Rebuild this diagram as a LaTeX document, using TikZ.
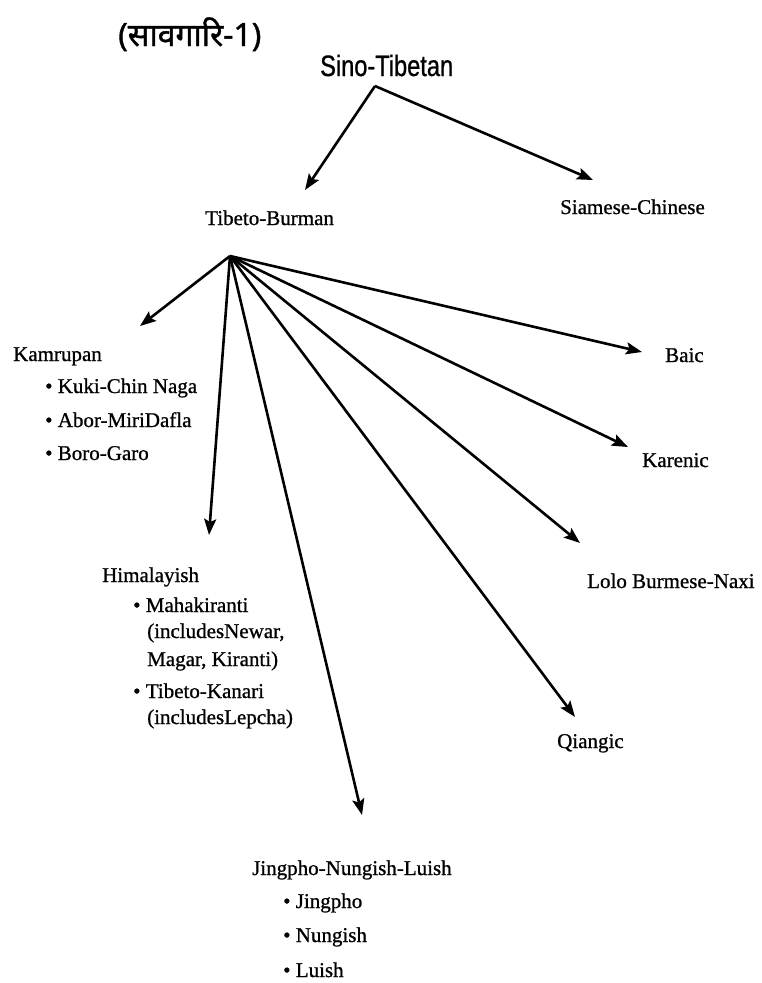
\documentclass[tikz,border=0pt]{standalone}
\usepackage{fontspec}
\setmainfont[FakeBold=0.9]{Liberation Serif}
\newfontfamily\devfont[Script=Devanagari,FakeBold=1.2]{Noto Sans}
\newfontfamily\narrowsans[FakeStretch=0.8,FakeBold=0.8]{Liberation Sans}
\usetikzlibrary{arrows.meta}
\begin{document}
\begin{tikzpicture}[x=1pt,y=-1pt,
  lbl/.style={font=\fontsize{21}{24}\selectfont, inner sep=0pt, anchor=base west},
  arr/.style={line width=2.6pt, -{Stealth[length=16pt,width=12pt,inset=3pt]}}]
\useasboundingbox (0,0) rectangle (762,983);
% titles
\node[font=\devfont\fontsize{32}{36}\selectfont, inner sep=0pt, anchor=base west] (title) at (118,46) {(सावगारि-1)};
\node[font=\narrowsans\fontsize{29.5}{32}\selectfont, inner sep=0pt, anchor=base west] (sino) at (320,76) {Sino-Tibetan};
% level 2
\node[lbl] (tb) at (205,225) {Tibeto-Burman};
\node[lbl] (sc) at (560,214) {Siamese-Chinese};
% right leaves
\node[lbl] (baic) at (665,362) {Baic};
\node[lbl] (karenic) at (642,467) {Karenic};
\node[lbl] (lolo) at (587,588) {Lolo Burmese-Naxi};
\node[lbl] (qiangic) at (557,748) {Qiangic};
% Kamrupan
\node[lbl] (kam) at (13,361) {Kamrupan};
\node[lbl] (kam1) at (45,393) {\textbullet\ Kuki-Chin Naga};
\node[lbl] (kam2) at (45,427) {\textbullet\ Abor-MiriDafla};
\node[lbl] (kam3) at (45,460) {\textbullet\ Boro-Garo};
% Himalayish
\node[lbl] (him) at (102,582) {Himalayish};
\node[lbl] (him1) at (133,612) {\textbullet\ Mahakiranti};
\node[lbl] (him1a) at (147,638) {(includesNewar,};
\node[lbl] (him1b) at (147,666) {Magar, Kiranti)};
\node[lbl] (him2) at (133,698) {\textbullet\ Tibeto-Kanari};
\node[lbl] (him2a) at (147,724) {(includesLepcha)};
% Jingpho
\node[lbl] (jnl) at (252,875) {Jingpho-Nungish-Luish};
\node[lbl] (jnl1) at (283,908) {\textbullet\ Jingpho};
\node[lbl] (jnl2) at (283,942) {\textbullet\ Nungish};
\node[lbl] (jnl3) at (283,977) {\textbullet\ Luish};
% junctions and arrow ends
\coordinate (sinoapex) at (375,86);
\coordinate (tbapex) at (230,256);
\coordinate (tSinoL) at (305,190);
\coordinate (tSinoR) at (593,180);
\coordinate (tKam) at (140,326);
\coordinate (tHim) at (209,535);
\coordinate (tJnl) at (362,815);
\coordinate (tQia) at (575,717);
\coordinate (tLolo) at (580,543);
\coordinate (tKar) at (628,447);
\coordinate (tBaic) at (642,352);
% arrows
\draw[arr] (sinoapex) -- (tSinoL);
\draw[arr] (sinoapex) -- (tSinoR);
\draw[arr] (tbapex) -- (tKam);
\draw[arr] (tbapex) -- (tHim);
\draw[arr] (tbapex) -- (tJnl);
\draw[arr] (tbapex) -- (tQia);
\draw[arr] (tbapex) -- (tLolo);
\draw[arr] (tbapex) -- (tKar);
\draw[arr] (tbapex) -- (tBaic);
\end{tikzpicture}
\end{document}
